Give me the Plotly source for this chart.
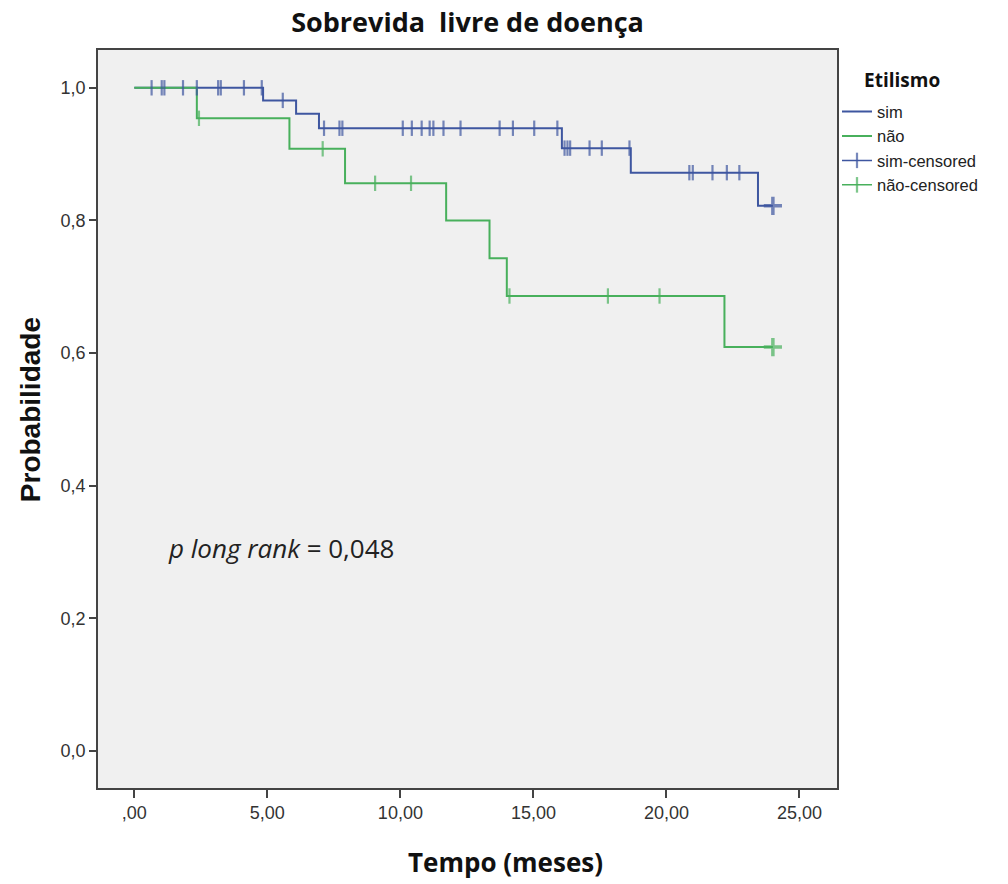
import plotly.graph_objects as go

# ---- data ----
sim_event_times = [0.0, 4.84, 6.08, 6.94, 16.07, 18.66, 23.44]
sim_surv = [1.0, 0.981, 0.961, 0.939, 0.909, 0.872, 0.822]
sim_end = 24.0
sim_censor = [0.65, 1.03, 1.13, 1.83, 2.35, 3.15, 3.25, 4.12, 4.79, 5.58,
              7.13, 7.71, 7.82, 10.09, 10.43, 10.80, 11.10, 11.24, 11.62,
              12.26, 13.73, 14.23, 15.03, 15.90, 16.17, 16.28, 16.38, 17.11,
              17.57, 18.61, 20.86, 20.99, 21.73, 22.27, 22.74, 24.0]

nao_event_times = [0.0, 2.35, 5.83, 7.92, 11.72, 13.35, 14.0, 22.18]
nao_surv = [1.0, 0.954, 0.908, 0.856, 0.80, 0.743, 0.686, 0.609]
nao_end = 24.0
nao_censor = [2.43, 7.08, 9.05, 10.40, 14.10, 17.80, 19.74, 24.0]

x_tickvals = [0, 5, 10, 15, 20, 25]
x_ticktext = [",00", "5,00", "10,00", "15,00", "20,00", "25,00"]
y_tickvals = [0.0, 0.2, 0.4, 0.6, 0.8, 1.0]
y_ticktext = ["0,0", "0,2", "0,4", "0,6", "0,8", "1,0"]

BLUE = "#3e56a0"
GREEN = "#48b05c"


def surv_at(t, times, surv):
    s = surv[0]
    for tt, ss in zip(times, surv):
        if tt <= t:
            s = ss
    return s


def censor_trace_data(cens, times, surv, end):
    xs, ys, sym, size, lw = [], [], [], [], []
    for t in cens:
        xs += [t, None]
        ys += [surv_at(t, times, surv), None]
        last = t >= end
        sym += ["cross-thin" if last else "line-ns", "line-ns"]
        size += [13 if last else 11, 11]
        lw += [3.5 if last else 2.2, 2.2]
    return xs, ys, sym, size, lw


fig = go.Figure()

fig.add_trace(go.Scatter(
    x=sim_event_times + [sim_end], y=sim_surv + [sim_surv[-1]],
    mode="lines", line=dict(color=BLUE, width=2, shape="hv"), name="sim"))
fig.add_trace(go.Scatter(
    x=nao_event_times + [nao_end], y=nao_surv + [nao_surv[-1]],
    mode="lines", line=dict(color=GREEN, width=2, shape="hv"), name="não"))

for name, cens, times, surv, end, col in [
        ("sim-censored", sim_censor, sim_event_times, sim_surv, sim_end, BLUE),
        ("não-censored", nao_censor, nao_event_times, nao_surv, nao_end, GREEN)]:
    xs, ys, sym, size, lw = censor_trace_data(cens, times, surv, end)
    fig.add_trace(go.Scatter(
        x=xs, y=ys, mode="lines+markers", connectgaps=False,
        line=dict(color=col, width=1.5),
        marker=dict(symbol=sym, size=size, color=col,
                    line=dict(color=col, width=lw)),
        name=name))

fig.add_annotation(
    x=1.19, y=0.306, xref="x", yref="y", xanchor="left", yanchor="middle",
    text="<i>p long rank</i> = 0,048", showarrow=False,
    font=dict(family="Open Sans", size=26, color="#222"))

fig.add_annotation(
    x=0.551, y=-0.10, xref="paper", yref="paper", xanchor="center", yanchor="middle",
    text="<b>Tempo (meses)</b>", showarrow=False,
    font=dict(family="Open Sans", size=26, color="#111"))

fig.add_annotation(
    x=-0.092, y=0.512, xref="paper", yref="paper", xanchor="center", yanchor="middle",
    text="<b>Probabilidade</b>", showarrow=False, textangle=-90,
    font=dict(family="Liberation Sans", size=28, color="#111"))

fig.add_annotation(
    x=1.034, y=0.96, xref="paper", yref="paper", xanchor="left", yanchor="middle",
    text="<b>Etilismo</b>", showarrow=False,
    font=dict(family="Open Sans", size=19, color="#111"))

fig.update_layout(
    width=1008, height=884,
    margin=dict(l=98, r=171, t=50, b=96),
    paper_bgcolor="white", plot_bgcolor="#f0f0f0",
    title=dict(text="<b>Sobrevida  livre de doença</b>", x=0.5, xref="paper",
               y=0.975, yanchor="middle",
               font=dict(family="Open Sans", size=27, color="#111")),
    showlegend=True,
    legend=dict(x=1.0, y=0.94, xanchor="left", yanchor="top",
                font=dict(family="Liberation Sans", size=16.5, color="#222"),
                bgcolor="rgba(0,0,0,0)", itemwidth=30, tracegroupgap=0),
    font=dict(family="Liberation Sans", color="#333"),
)

fig.update_xaxes(
    range=[-1.365, 26.41], tickvals=x_tickvals, ticktext=x_ticktext,
    showgrid=False, zeroline=False, showline=True, mirror=True,
    linecolor="#444", linewidth=1.5, ticks="outside", ticklen=8,
    tickwidth=2, tickcolor="#444",
    tickfont=dict(family="Liberation Sans", size=18, color="#333"))
fig.update_yaxes(
    range=[-0.056, 1.057], tickvals=y_tickvals, ticktext=y_ticktext,
    showgrid=False, zeroline=False, showline=True, mirror=True,
    linecolor="#444", linewidth=1.5, ticks="outside", ticklen=7,
    tickwidth=2, tickcolor="#444",
    tickfont=dict(family="Liberation Sans", size=18, color="#333"))

fig.write_html("out.html")
